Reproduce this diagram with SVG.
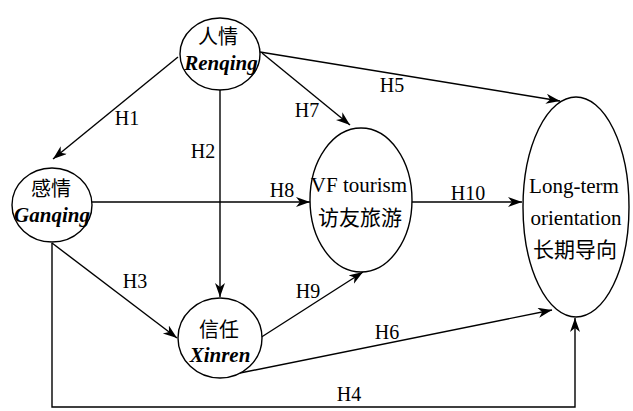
<svg xmlns="http://www.w3.org/2000/svg" width="633" height="411" viewBox="0 0 633 411">
<style>
.node{fill:#fff;stroke:#000;stroke-width:1.4}
.edge{fill:none;stroke:#000;stroke-width:1.4;marker-end:url(#arr)}
.zh{font-family:"Noto Sans CJK SC",sans-serif;font-size:20px;fill:#000;text-anchor:middle}
.zhl{font-family:"Noto Sans CJK SC",sans-serif;font-size:21px;fill:#000;text-anchor:middle}
.it{font-family:"Liberation Serif",serif;font-style:italic;font-weight:bold;font-size:21px;fill:#000;text-anchor:middle}
.en{font-family:"Liberation Serif",serif;font-size:21px;fill:#000;text-anchor:middle}
.lbl{font-family:"Liberation Serif",serif;font-size:20px;fill:#000;text-anchor:middle}
</style>
<defs>
<marker id="arr" markerUnits="userSpaceOnUse" markerWidth="16" markerHeight="12" refX="14" refY="5" orient="auto" viewBox="0 0 16 12">
<path d="M0,0 L14,5 L0,10 L4,5 z" fill="#000"/>
</marker>
</defs>
<g id="connectors">
<line class="edge" x1="178" y1="57" x2="53" y2="159"/>
<line class="edge" x1="220" y1="90" x2="220" y2="297"/>
<line class="edge" x1="52" y1="243" x2="177" y2="338"/>
<polyline class="edge" points="52,243 52,407 575,407 575,318"/>
<line class="edge" x1="260" y1="52" x2="560" y2="101"/>
<line class="edge" x1="240" y1="373" x2="552" y2="310"/>
<line class="edge" x1="262" y1="53" x2="350" y2="125"/>
<line class="edge" x1="92" y1="202" x2="310" y2="202"/>
<line class="edge" x1="260" y1="338" x2="363" y2="272"/>
<line class="edge" x1="412" y1="202" x2="522" y2="202"/>
<text class="lbl" x="127" y="125">H1</text>
<text class="lbl" x="203" y="158">H2</text>
<text class="lbl" x="135" y="288">H3</text>
<text class="lbl" x="349" y="401">H4</text>
<text class="lbl" x="392" y="92">H5</text>
<text class="lbl" x="387" y="339">H6</text>
<text class="lbl" x="307" y="117">H7</text>
<text class="lbl" x="282" y="197">H8</text>
<text class="lbl" x="308" y="298">H9</text>
<text class="lbl" x="468" y="200">H10</text>
</g>
<g id="renqing">
<ellipse class="node" cx="220" cy="54" rx="40" ry="36"/>
<text class="zh" x="218" y="44">人情</text>
<text class="it" x="221" y="70">Renqing</text>
</g>
<g id="ganqing">
<ellipse class="node" cx="52" cy="205" rx="40" ry="37"/>
<text class="zh" x="51" y="196">感情</text>
<text class="it" x="52" y="222">Ganqing</text>
</g>
<g id="xinren">
<ellipse class="node" cx="220" cy="338" rx="42" ry="40"/>
<text class="zh" x="219" y="337">信任</text>
<text class="it" x="220" y="362">Xinren</text>
</g>
<g id="vftourism">
<ellipse class="node" cx="361" cy="200" rx="51" ry="72"/>
<text class="en" x="359" y="192">VF tourism</text>
<text class="zhl" x="360" y="225">访友旅游</text>
</g>
<g id="longterm">
<ellipse class="node" cx="576" cy="207" rx="53" ry="110"/>
<text class="en" x="574" y="193">Long-term</text>
<text class="en" x="576" y="225">orientation</text>
<text class="zhl" x="575" y="257">长期导向</text>
</g>
</svg>
